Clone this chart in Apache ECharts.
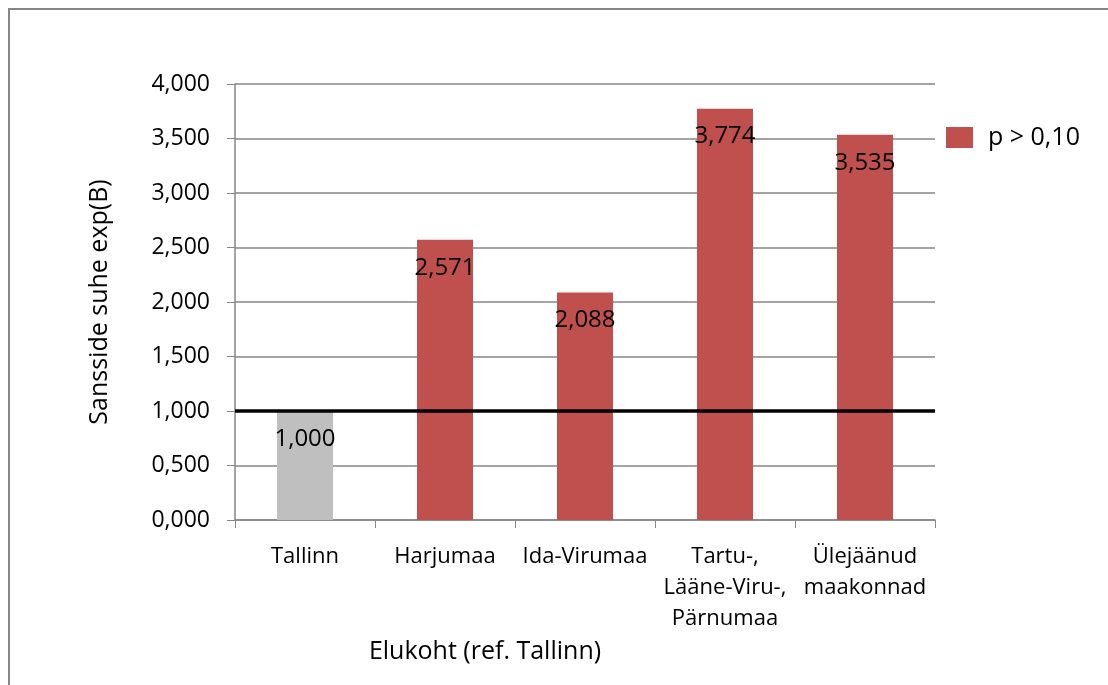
<!DOCTYPE html>
<html>
<head>
<meta charset="utf-8">
<script src="https://cdn.jsdelivr.net/npm/echarts@6/dist/echarts.min.js"></script>
<style>
  html, body { margin: 0; padding: 0; background: #fff; }
  #chart { width: 1108px; height: 685px; }
</style>
</head>
<body>
<div id="chart"></div>
<script>
// data
const categories = ["Tallinn", "Harjumaa", "Ida-Virumaa", "Tartu-,\nLääne-Viru-,\nPärnumaa", "Ülejäänud\nmaakonnad"];
const values = [1.0, 2.571, 2.088, 3.774, 3.535];
const refIndex = 0; // Tallinn is the reference category (grey bar)
const refLine = 1.0;
const seriesName = "p > 0,10";

const fmt = v => Number(v).toFixed(3).replace(".", ",");
const font = "'Open Sans', 'Liberation Sans', sans-serif";

const barLabel = {
  show: true,
  position: "insideTop",
  distance: 16,
  fontSize: 24,
  color: "#000",
  formatter: p => fmt(p.value)
};

const chart = echarts.init(document.getElementById("chart"));
chart.setOption({
  animation: false,
  textStyle: { fontFamily: font, color: "#000" },
  graphic: [
    {
      type: "rect",
      shape: { x: 9, y: 9, width: 1200, height: 800 },
      style: { fill: "none", stroke: "#868686", lineWidth: 2 },
      silent: true
    }
  ],
  legend: {
    data: [seriesName],
    icon: "rect",
    left: 941,
    top: 120,
    itemWidth: 27,
    itemHeight: 21,
    itemGap: 10,
    itemStyle: { color: "#C0504D" },
    textStyle: { fontSize: 25, color: "#000", fontFamily: font, padding: [0, 0, 0, 10] }
  },
  grid: { left: 235, right: 173, top: 84, bottom: 165 },
  xAxis: {
    type: "category",
    data: categories,
    name: "Elukoht (ref. Tallinn)",
    nameLocation: "middle",
    nameGap: 114,
    nameTextStyle: { fontSize: 25, color: "#000", padding: [0, 200, 0, 0] },
    axisLine: { lineStyle: { color: "#868686", width: 1.5 } },
    axisTick: { show: true, length: 8, alignWithLabel: false, lineStyle: { color: "#868686" } },
    axisLabel: { fontSize: 22, color: "#000", margin: 21, lineHeight: 31, interval: 0 },
    splitLine: { show: false }
  },
  yAxis: {
    type: "value",
    min: 0,
    max: 4,
    interval: 0.5,
    name: "Sansside suhe exp(B)",
    nameLocation: "middle",
    nameGap: 123,
    nameRotate: 90,
    nameTextStyle: { fontSize: 25, color: "#000" },
    axisLine: { show: true, lineStyle: { color: "#868686", width: 1.5 } },
    axisTick: { show: true, length: 8, lineStyle: { color: "#868686" } },
    axisLabel: { fontSize: 23, color: "#000", margin: 25, formatter: fmt },
    splitLine: { lineStyle: { color: "#868686", width: 1.5 } }
  },
  series: [
    {
      name: "ref",
      type: "bar",
      barWidth: "40%",
      barGap: "-100%",
      itemStyle: { color: "#BFBFBF" },
      data: values.map((v, i) => i === refIndex ? v : "-"),
      label: barLabel
    },
    {
      name: seriesName,
      type: "bar",
      barWidth: "40%",
      barGap: "-100%",
      itemStyle: { color: "#C0504D" },
      data: values.map((v, i) => i === refIndex ? "-" : v),
      label: barLabel,
      markLine: {
        silent: true,
        symbol: "none",
        label: { show: false },
        lineStyle: { color: "#000", width: 3.5, type: "solid" },
        data: [{ yAxis: refLine }]
      }
    }
  ]
});
</script>
</body>
</html>
